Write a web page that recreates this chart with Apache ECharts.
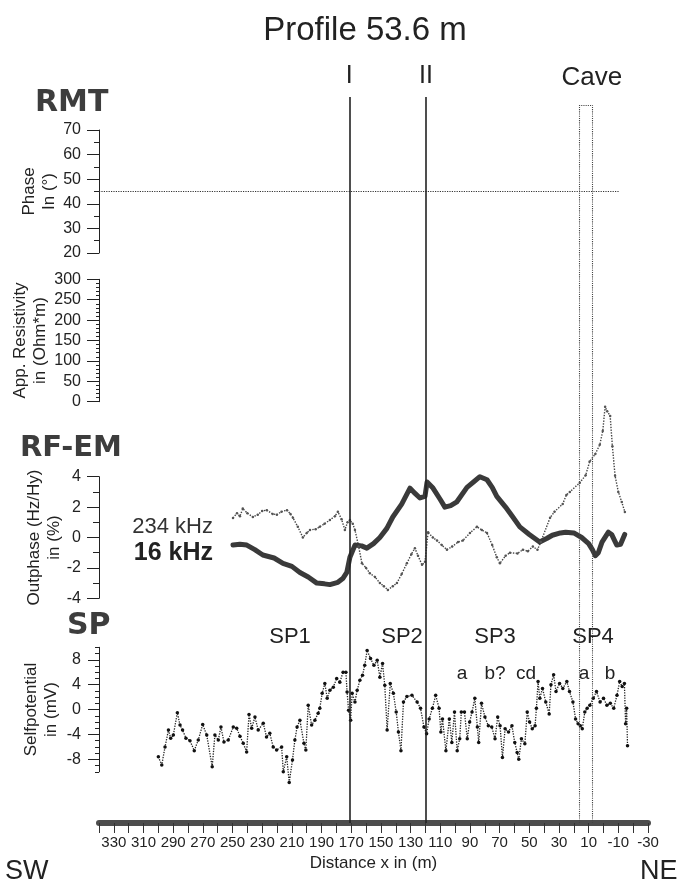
<!DOCTYPE html>
<html>
<head>
<meta charset="utf-8">
<title>Profile 53.6 m</title>
<script src="https://cdn.jsdelivr.net/npm/echarts@6/dist/echarts.min.js"></script>
<style>
  html, body { margin: 0; padding: 0; background: #fff; }
  #chart { width: 678px; height: 886px; }
</style>
</head>
<body>
<div id="chart"></div>
<script>
// ---- Profile axis (distance x in m, SW on the left, NE on the right) ----
const distanceMin = -30;
const distanceMax = 340;
const distanceStep = 10;

// ---- Interpretation markers (distance in m) ----
const markerI = 171.3;
const markerII = 119.7;
const caveSW = 16.5;
const caveNE = 7.9;

// ---- RMT phase reference level (degrees) ----
const phaseLevel = 45;
const phaseLevelEnd = -11;

// ---- RF-EM outphase (Hz/Hy) in %, 16 kHz ----
const rfem16Dist = [249.7,245,240.4,235,229.6,222,216,210,204.6,199,193.2,188,184.4,179,175.7,173,170.9,167.5,163,159.5,155,150.7,146,142,136,130.4,127,123.7,120.3,118.9,114.9,110,106.9,103,98.8,92,87,83.3,78.5,75,71.9,66,61.1,56.4,50,43,38,34.5,29,25.5,20,14.7,10,7.5,5.5,3.5,1,-3.3,-5.5,-7.5,-9,-11.5,-14.3];
const rfem16Val = [-0.5,-0.45,-0.5,-0.8,-1.15,-1.35,-1.7,-1.9,-2.3,-2.6,-3.0,-3.05,-3.1,-2.95,-2.7,-2.3,-1.3,-0.5,-0.55,-0.7,-0.4,0,0.6,1.35,2.2,3.25,2.9,2.6,2.7,3.65,3.25,2.5,2.0,2.1,2.35,3.3,3.7,4.0,3.8,3.3,2.7,2.0,1.35,0.7,0.2,-0.3,-0.05,0.15,0.3,0.35,0.3,0,-0.4,-0.8,-1.2,-1.0,-0.3,0.35,0.2,-0.2,-0.5,-0.45,0.2];

// ---- RF-EM outphase (Hz/Hy) in %, 234 kHz ----
const rfem234Dist = [249.7,247,245,243.1,240,236.3,233,230,226.9,223,220.1,217,213.3,211,209.3,206,202.6,200,197.8,194,191.2,188,184.4,181,179,176.5,174.3,172.5,170.9,169,167.5,165,162.8,160,157.5,154,150.7,148,145.3,142,139.2,136,132.5,129.5,127.1,125,122.3,120.3,118.2,115,112.2,109,105.5,102,98,94.8,90,85.3,82,78.5,75,71.9,69.8,66,63,58,54.3,51,47.6,44.5,42.3,36,33,27.5,25,22.7,16,12,9.3,5.5,2.5,0.5,-1.1,-2.5,-4.5,-6,-7.8,-10,-12.3,-14.4];
const rfem234Val = [1.28,1.6,1.4,1.9,1.6,1.35,1.5,1.75,1.8,1.55,1.5,1.7,1.8,1.55,1.3,0.7,0,0.3,0.5,0.55,0.7,0.9,1.15,1.4,1.7,1.2,0.5,1.0,1.15,0.9,0.5,-0.6,-1.7,-2.0,-2.35,-2.6,-3.0,-3.2,-3.45,-3.2,-3.0,-2.4,-1.7,-1.1,-0.7,-1.2,-1.8,-1.6,0.35,0,-0.2,-0.5,-0.8,-0.6,-0.3,-0.2,0.3,0.7,0.5,0.3,-0.5,-1.3,-1.7,-1.2,-1.0,-1.05,-0.8,-0.9,-0.6,-0.8,-0.3,1.3,1.7,2.2,2.8,3.0,3.6,4.1,5.0,5.5,6.1,7.0,8.6,8.3,8.0,6.0,4.07,3.0,2.34,1.68];

// ---- Selfpotential in mV ----
const spDist = [300.0,297.7,295.5,293.2,291.7,289.9,287.2,285.4,283.7,281.4,278.7,275.8,273.1,270.1,267.4,263.7,261.9,259.6,257.8,255.8,252.9,249.5,247.2,245.0,242.8,240.5,238.9,237.1,234.9,232.7,229.3,227.1,224.9,222.6,220.3,216.9,215.8,213.5,211.8,209.6,208.0,206.5,204.6,201.9,200.6,199.0,196.7,194.5,192.3,191.2,189.6,187.8,186.2,184.4,182.1,179.8,177.7,175.5,173.6,172.8,171.8,170.4,169.4,167.5,166.0,164.2,162.4,160.9,159.3,157.0,154.7,152.5,150.7,148.9,147.4,145.8,143.7,141.6,139.7,138.2,136.5,134.8,132.5,129.1,125.6,123.3,121.0,119.2,117.5,115.3,113.1,110.8,109.6,108.5,106.2,103.9,102.2,100.4,98.6,96.9,95.8,93.7,91.8,90.2,88.6,86.7,85.0,84.1,82.2,79.9,77.6,75.3,73.1,71.3,69.7,68.1,66.3,64.0,61.7,59.8,58.2,57.1,55.3,53.0,51.4,49.8,48.0,46.1,45.2,44.1,42.9,41.1,38.9,36.6,35.4,33.6,32.0,29.6,27.4,24.7,22.9,20.6,18.8,17.1,15.6,14.3,12.6,11.0,9.2,6.9,4.7,2.3,0.0,-2.3,-4.6,-6.9,-9.1,-10.9,-12.6,-14.1,-14.9,-15.6,-16.2];
const spVal = [-7.6,-8.9,-6.0,-3.3,-4.6,-4.1,-0.5,-2.5,-3.3,-4.6,-5.0,-6.6,-4.9,-2.4,-4.1,-9.2,-4.1,-4.9,-2.8,-5.2,-4.9,-2.8,-3.0,-4.3,-5.4,-6.8,-0.8,-3.0,-1.2,-3.3,-2.2,-4.4,-3.8,-6.0,-6.5,-6.0,-10.0,-7.6,-11.7,-8.1,-4.9,-2.8,-1.7,-5.4,-6.5,0.7,-2.5,-1.7,-0.6,0.2,2.6,4.2,1.8,3.1,3.6,5.0,4.4,6.0,6.0,2.8,-0.1,-1.7,2.6,1.2,3.1,4.7,5.5,7.1,9.5,8.2,7.1,7.9,5.2,7.4,3.9,-3.3,4.2,2.6,-0.4,-3.6,-6.6,1.2,2.1,2.3,1.2,0.2,-2.8,-3.9,-1.5,0.2,2.3,0.2,-3.6,-1.5,-6.6,-1.5,-5.3,-0.4,-6.6,-4.7,-0.4,-0.4,-4.7,-2.0,-0.4,1.8,-2.8,-5.3,1.0,-1.2,-2.6,-2.8,-4.7,-1.2,-2.6,-7.7,-3.1,-3.6,-2.6,-5.3,-6.9,-8.0,-4.7,-5.5,-0.4,-2.0,-3.1,-2.6,0.2,4.5,1.8,3.4,1.2,-0.7,4.0,5.6,2.9,4.2,3.4,4.5,2.9,1.2,-1.5,-2.3,-2.6,-3.1,-0.4,0.2,0.7,1.8,2.9,1.2,1.8,0.7,1.0,0.2,2.3,4.5,3.7,4.2,-2.3,0.2,-5.8];

// ---- Tick labels ----
const spLabelValues = [-8, -4, 0, 4, 8];

const zip = (xs, ys) => xs.map((x, i) => [x, ys[i]]);

const FONT = '"Liberation Sans", Arial, Helvetica, sans-serif';
const BOLD_FONT = '"DejaVu Sans", "Liberation Sans", Arial, sans-serif';
const INK = '#222';

// panel frames (pixels)
const plotLeft = 99, plotRight = 30;
const panels = [
  { top: 130,   height: 123 },   // RMT phase
  { top: 279.3, height: 122.4 }, // RMT apparent resistivity
  { top: 476.7, height: 121.6 }, // RF-EM
  { top: 647.3, height: 124.5 }  // SP
];
const frameTop = 97, frameBottom = 63;   // full-height frame for markers and distance axis
const caveBoxTop = 0.989;               // top edge of the cave box within the frame (0..1)

const chart = echarts.init(document.getElementById('chart'), null, { renderer: 'canvas' });

const xBase = { type: 'value', min: distanceMin, max: distanceMax, interval: distanceStep, inverse: true, splitLine: { show: false } };

function yAxisFor(gridIndex, min, max, interval, minorSplit, minorLen, name, nameGap) {
  return {
    type: 'value', gridIndex, min, max, interval, position: 'left',
    axisLine: { show: true, onZero: false, lineStyle: { color: INK, width: 1 } },
    axisTick: { show: true, length: 12, lineStyle: { color: INK, width: 1 } },
    minorTick: { show: minorSplit > 1, splitNumber: minorSplit, length: minorLen, lineStyle: { color: INK, width: 1 } },
    axisLabel: { fontSize: 16, color: INK, margin: 18, fontFamily: FONT },
    splitLine: { show: false }, minorSplitLine: { show: false },
    name, nameLocation: 'middle', nameRotate: 90, nameGap, nameMoveOverlap: false,
    nameTextStyle: { fontSize: 17, lineHeight: 20, color: INK, fontFamily: FONT, align: 'center' }
  };
}

const labelText = (text, x, y, size, opts = {}) => ({
  type: 'text', x, y, silent: true,
  style: {
    text, fill: opts.fill || INK, fontSize: size, fontFamily: opts.family || FONT,
    fontWeight: opts.weight || 'normal', align: opts.align || 'center', verticalAlign: 'middle'
  }
});

const option = {
  animation: false,
  backgroundColor: '#fff',
  title: {
    text: 'Profile 53.6 m', left: 360, top: 9, textAlign: 'center',
    textStyle: { fontSize: 33, fontWeight: 'normal', color: INK, fontFamily: FONT }
  },
  grid: [
    ...panels.map(p => ({ left: plotLeft, right: plotRight, top: p.top, height: p.height })),
    { left: plotLeft, right: plotRight, top: frameTop, bottom: frameBottom }
  ],
  xAxis: [
    ...panels.map((p, i) => Object.assign({}, xBase, { gridIndex: i, show: false })),
    Object.assign({}, xBase, {
      gridIndex: 4, position: 'bottom',
      axisLine: { show: true, onZero: false, lineStyle: { color: '#4d4d4d', width: 6 } },
      axisTick: { show: true, length: 10, lineStyle: { color: '#333', width: 1 } },
      axisLabel: {
        fontSize: 15, color: INK, margin: 12, fontFamily: FONT,
        formatter: v => (Math.round(v / distanceStep) % 2 !== 0 ? String(v) : '')
      },
      name: 'Distance x in (m)', nameLocation: 'middle', nameGap: 26,
      nameTextStyle: { fontSize: 17, color: INK, fontFamily: FONT }
    })
  ],
  yAxis: [
    yAxisFor(0, 20, 70, 10, 2, 5, 'Phase\nIn (°)', 40),
    yAxisFor(1, 0, 300, 50, 5, 3, 'App. Resistivity\nin (Ohm*m)', 49),
    yAxisFor(2, -4, 4, 2, 2, 6, 'Outphase (Hz/Hy)\nin (%)', 35),
    Object.assign(yAxisFor(3, -10, 10, 2, 1, 0, 'Selfpotential\nin (mV)', 38), {
      axisTick: { show: true, length: 11, customValues: spLabelValues, lineStyle: { color: INK } },
      axisLabel: { fontSize: 16, color: INK, margin: 18, fontFamily: FONT, customValues: spLabelValues },
      minorTick: { show: false }
    }),
    {
      type: 'value', gridIndex: 3, min: -10, max: 10, interval: 1, position: 'left',
      axisLine: { show: false, onZero: false }, axisLabel: { show: false }, splitLine: { show: false },
      axisTick: { show: true, length: 4, lineStyle: { color: INK } }
    },
    { type: 'value', gridIndex: 4, min: 0, max: 1, show: false }
  ],
  graphic: [
    labelText('RMT', 35, 103.5, 30, { align: 'left', weight: 'bold', family: BOLD_FONT, fill: '#3d3d3d' }),
    labelText('RF-EM', 20, 448, 29, { align: 'left', weight: 'bold', family: BOLD_FONT, fill: '#3d3d3d' }),
    labelText('SP', 67, 626, 30, { align: 'left', weight: 'bold', family: BOLD_FONT, fill: '#3d3d3d' }),
    labelText('234 kHz', 213, 527, 22, { align: 'right', fill: '#333' }),
    labelText('16 kHz', 213, 553, 25, { align: 'right', weight: 'bold' }),
    labelText('SP1', 290, 637, 22),
    labelText('SP2', 402, 637, 22),
    labelText('SP3', 495, 637, 22),
    labelText('SP4', 593, 637, 22),
    labelText('a', 462, 674, 19),
    labelText('b?', 495, 674, 19),
    labelText('cd', 526, 674, 19),
    labelText('a', 584, 674, 19),
    labelText('b', 610, 674, 19),
    labelText('SW', 5, 872, 27, { align: 'left' }),
    labelText('NE', 640, 872, 27, { align: 'left' })
  ],
  series: [
    {
      name: 'Phase 45°', type: 'line', xAxisIndex: 0, yAxisIndex: 0,
      data: [[distanceMax, phaseLevel], [phaseLevelEnd, phaseLevel]],
      symbol: 'none', silent: true,
      lineStyle: { type: 'dotted', width: 1.2, color: '#333' }
    },
    {
      name: '234 kHz', type: 'line', xAxisIndex: 2, yAxisIndex: 2, clip: false,
      data: zip(rfem234Dist, rfem234Val),
      symbol: 'circle', symbolSize: 2.5, showAllSymbol: true,
      itemStyle: { color: '#555' },
      lineStyle: { type: 'dotted', width: 1.4, color: '#444' }
    },
    {
      name: '16 kHz', type: 'line', xAxisIndex: 2, yAxisIndex: 2, clip: false,
      data: zip(rfem16Dist, rfem16Val),
      symbol: 'none',
      lineStyle: { width: 5, color: '#3a3a3a', cap: 'round', join: 'round' }
    },
    {
      name: 'SP', type: 'line', xAxisIndex: 3, yAxisIndex: 3, clip: false,
      data: zip(spDist, spVal),
      symbol: 'circle', symbolSize: 3.5, showAllSymbol: true,
      itemStyle: { color: '#111' },
      lineStyle: { type: 'dotted', width: 1.3, color: '#222' }
    },
    {
      name: 'Markers', type: 'line', xAxisIndex: 4, yAxisIndex: 5, data: [],
      markLine: {
        silent: true, symbol: ['none', 'none'], animation: false,
        lineStyle: { type: 'solid', width: 1.6, color: '#222' },
        label: { show: true, position: 'end', distance: 8, formatter: p => p.name || '', fontSize: 25, color: INK, fontFamily: FONT },
        data: [
          [{ name: 'I', coord: [markerI, 0] }, { name: 'I', coord: [markerI, 1] }],
          [{ name: 'II', coord: [markerII, 0] }, { name: 'II', coord: [markerII, 1] }]
        ]
      }
    },
    {
      name: 'Cave', type: 'line', xAxisIndex: 4, yAxisIndex: 5, data: [],
      markLine: {
        silent: true, symbol: ['none', 'none'], animation: false,
        lineStyle: { type: 'dotted', width: 1.1, color: '#444' },
        label: { show: true, position: 'end', distance: 14, formatter: p => p.name || '', fontSize: 26, color: INK, fontFamily: FONT },
        data: [
          [{ coord: [caveSW, 0] }, { coord: [caveSW, caveBoxTop] }],
          [{ name: 'Cave', coord: [caveNE, 0] }, { name: 'Cave', coord: [caveNE, caveBoxTop] }],
          [{ coord: [caveSW, caveBoxTop] }, { coord: [caveNE, caveBoxTop] }]
        ]
      }
    }
  ]
};

chart.setOption(option);
</script>
</body>
</html>
